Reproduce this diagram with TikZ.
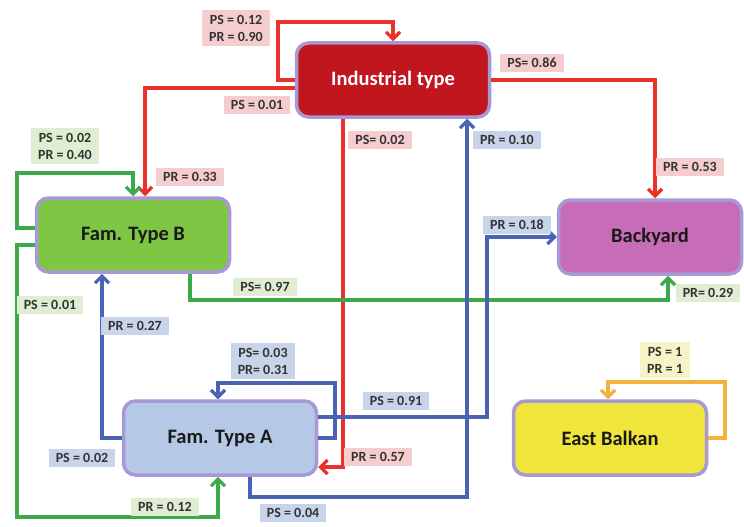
\documentclass[tikz,border=0pt]{standalone}
\usepackage{fontspec}
\setmainfont{Carlito}
\usetikzlibrary{arrows.meta}
\definecolor{redl}{HTML}{E8312A}
\definecolor{greenl}{HTML}{3EA94B}
\definecolor{bluel}{HTML}{4A63B5}
\definecolor{orangel}{HTML}{F2B23C}
\definecolor{pinkbg}{HTML}{F6CDCF}
\definecolor{greenbg}{HTML}{DFEDD2}
\definecolor{bluebg}{HTML}{C8D4EA}
\definecolor{yellowbg}{HTML}{F6F4C6}
\definecolor{indfill}{HTML}{C1161D}
\definecolor{fbfill}{HTML}{7EC644}
\definecolor{byfill}{HTML}{C76CB6}
\definecolor{fafill}{HTML}{B5C9E7}
\definecolor{ebfill}{HTML}{F0E53B}
\definecolor{glow}{HTML}{A898D6}
\definecolor{labtext}{HTML}{333333}
\begin{document}
\begin{tikzpicture}[x=1pt,y=-1pt,
  box/.style={rounded corners=12pt, draw=glow, line width=3.5pt, minimum width=193pt, minimum height=74pt,
    font=\fontsize{20.5}{22}\selectfont\bfseries, text=black!90, inner sep=0pt},
  conn/.style={line width=3.2pt, -{Straight Barb[length=7pt,width=14pt]}},
  lab/.style={font=\fontsize{14}{17}\selectfont\bfseries, text=labtext, align=center, inner xsep=7pt, inner ysep=4.5pt}]
\useasboundingbox (0,0) rectangle (744,527);
% boxes
\node[box, fill=indfill, text=white] (ind) at (393,80) {Industrial type};
\node[box, fill=fbfill] (famB) at (133,235) {Fam. Type B};
\node[box, fill=byfill, minimum width=183pt] (bya) at (650,237) {Backyard};
\node[box, fill=fafill] (famA) at (220,438) {Fam. Type A};
\node[box, fill=ebfill] (eb) at (610,438) {East Balkan};
% red connectors
\draw[conn, redl] (ind.west) -| (278,22) -| (ind.north);
\draw[conn, redl] ([yshift=-8pt]ind.west) -| ([xshift=12pt]famB.north);
\draw[conn, redl] (ind.east) -| ([xshift=5pt]bya.north);
\draw[conn, redl] ([xshift=-50pt]ind.south) |- ([yshift=-29pt]famA.east);
% green connectors
\draw[conn, greenl] ([yshift=7pt]famB.west) -| (17,173) -| (famB.north);
\draw[conn, greenl] ([yshift=-10pt]famB.west) -| (17,517) -| ([xshift=-2pt]famA.south);
\draw[conn, greenl] ([xshift=57pt]famB.south) |- (668,300) -| ([xshift=18pt]bya.south);
% blue connectors
\draw[conn, bluel] (famA.west) -| ([xshift=-31pt]famB.south);
\draw[conn, bluel] (famA.east) -| (335,383) -| ([xshift=-2pt]famA.north);
\draw[conn, bluel] ([yshift=21pt]famA.east) -| (487,237) -- (bya.west);
\draw[conn, bluel] ([xshift=30pt]famA.south) |- (467,497) -| ([xshift=74pt]ind.south);
% orange connector
\draw[conn, orangel] (eb.east) -| (725,382) -| ([xshift=-2pt]eb.north);
% labels
\node[lab, fill=pinkbg] (l1) at (236,28) {PS = 0.12\\PR = 0.90};
\node[lab, fill=pinkbg] (l2) at (257,105) {PS = 0.01};
\node[lab, fill=pinkbg] (l3) at (190,177) {PR = 0.33};
\node[lab, fill=pinkbg] (l4) at (532,63) {PS= 0.86};
\node[lab, fill=pinkbg] (l5) at (690,167) {PR = 0.53};
\node[lab, fill=pinkbg] (l6) at (380,140) {PS= 0.02};
\node[lab, fill=pinkbg] (l7) at (378,457) {PR = 0.57};
\node[lab, fill=greenbg] (l8) at (65,146) {PS = 0.02\\PR = 0.40};
\node[lab, fill=greenbg] (l9) at (50,305) {PS = 0.01};
\node[lab, fill=greenbg] (l10) at (165,507) {PR = 0.12};
\node[lab, fill=greenbg] (l11) at (265,287) {PS= 0.97};
\node[lab, fill=greenbg] (l12) at (708,293) {PR= 0.29};
\node[lab, fill=bluebg] (l13) at (135,326) {PR = 0.27};
\node[lab, fill=bluebg] (l14) at (82,458) {PS = 0.02};
\node[lab, fill=bluebg] (l15) at (263,361) {PS= 0.03\\PR= 0.31};
\node[lab, fill=bluebg] (l16) at (396,401) {PS = 0.91};
\node[lab, fill=bluebg] (l17) at (517,225) {PR = 0.18};
\node[lab, fill=bluebg] (l18) at (293,513) {PS = 0.04};
\node[lab, fill=bluebg] (l19) at (507,140) {PR = 0.10};
\node[lab, fill=yellowbg] (l20) at (665,360) {PS = 1\\PR = 1};
\end{tikzpicture}
\end{document}
